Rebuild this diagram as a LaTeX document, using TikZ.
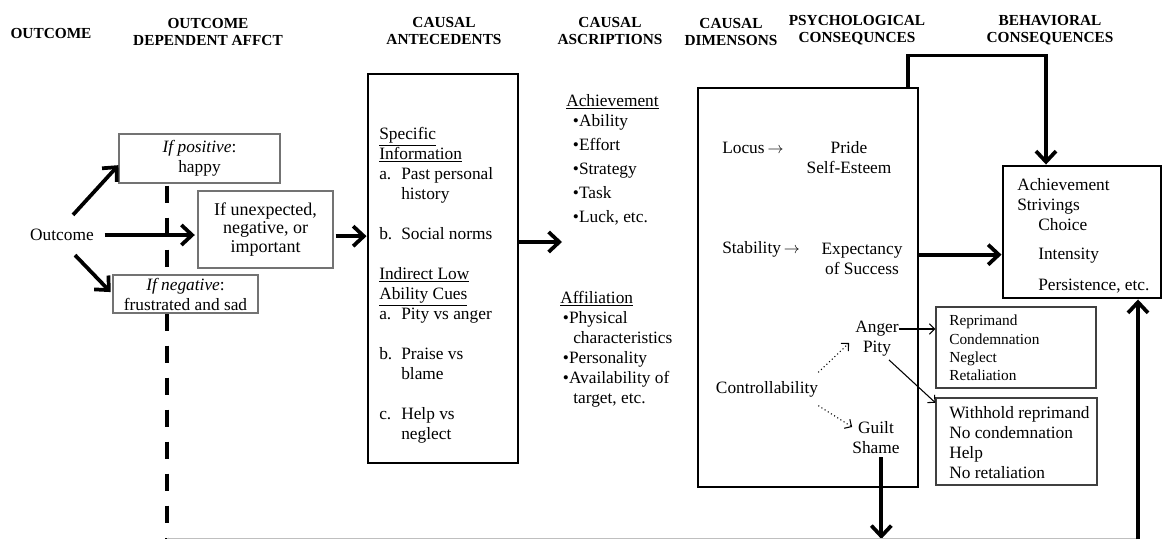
\documentclass[tikz,border=0pt]{standalone}
\usepackage{fontspec}
\setmainfont{Liberation Serif}
\usetikzlibrary{arrows.meta}
\tikzset{
  hdr/.style={font=\bfseries\fontsize{11.5}{12.75}\selectfont, align=center, inner sep=0pt},
  txt/.style={font=\fontsize{13}{15}\selectfont, inner sep=0pt},
  smallbox/.style={draw=black!55, line width=0.8pt, fill=white, align=center, inner sep=0pt, font=\fontsize{13}{15}\selectfont},
  listbox/.style={draw=black!75, line width=0.8pt, fill=white, inner sep=0pt},
  bigbox/.style={draw, line width=2.2pt, inner sep=0pt},
  bigarrow/.style={line width=2.8pt, -{Straight Barb[length=8pt,width=15pt]}},
  thinarrow/.style={line width=0.8pt, -{Straight Barb[length=4pt,width=8pt]}},
  dotarrow/.style={line width=0.8pt, dotted, -{Straight Barb[length=4pt,width=8pt]}},
}
\newcommand{\dimarrow}{\,$\rightarrow$}
\begin{document}
\begin{tikzpicture}[x=0.75pt, y=-0.75pt]
  \useasboundingbox (0,0) rectangle (1163,539);

  % Column headings
  \node[hdr] (hOut) at (51,33) {OUTCOME};
  \node[hdr] (hAff) at (208,32) {OUTCOME\\DEPENDENT AFFCT};
  \node[hdr] (hAnt) at (444,31) {CAUSAL\\ANTECEDENTS};
  \node[hdr] (hAsc) at (610,31) {CAUSAL\\ASCRIPTIONS};
  \node[hdr] (hDim) at (731,32) {CAUSAL\\DIMENSONS};
  \node[hdr] (hPsy) at (857,30) {PSYCHOLOGICAL\\CONSEQUNCES};
  \node[hdr] (hBeh) at (1050,30) {BEHAVIORAL\\CONSEQUENCES};

  % Outcome and affect
  \node[txt] (outcome) at (62,235) {Outcome};
  \node[smallbox, minimum width=161*0.75pt, minimum height=49*0.75pt] (pos) at (199.5,158.5) {\textit{If positive}:\\happy};
  \node[smallbox, font=\fontsize{13.5}{14}\selectfont, minimum width=135*0.75pt, minimum height=77*0.75pt] (unexp) at (265.5,229.5) {If unexpected,\\negative, or\\important};
  \coordinate (dashbot) at (167,539);
  \draw[line width=3pt, dash pattern=on 13pt off 11pt] (pos.south -| dashbot) ++(0,2) -- (dashbot);
  \node[smallbox, minimum width=145*0.75pt, minimum height=38*0.75pt] (neg) at (185.5,294) {\textit{If negative}:\\frustrated and sad};

  % Boxes
  \node[bigbox, minimum width=150*0.75pt, minimum height=389*0.75pt] (antec) at (443,268.5) {};
  \node[bigbox, minimum width=220*0.75pt, minimum height=399*0.75pt] (dims) at (808,287.5) {};
  \node[bigbox, minimum width=158*0.75pt, minimum height=132*0.75pt] (strv) at (1082,232) {};
  \node[listbox, minimum width=160*0.75pt, minimum height=81*0.75pt] (rep) at (1016,347.5) {};
  \node[listbox, minimum width=161*0.75pt, minimum height=87*0.75pt] (wh) at (1016.5,441.5) {};

  % Antecedents
  \node[txt, anchor=north west, align=left] (antectxt) at (379,127) {%
    \underline{Specific}\\
    \underline{Information}\\
    \makebox[16.5pt][l]{a.}Past personal\\
    \hspace*{16.5pt}history\\[15pt]
    \makebox[16.5pt][l]{b.}Social norms\\[15pt]
    \underline{Indirect Low}\\
    \underline{Ability Cues}\\
    \makebox[16.5pt][l]{a.}Pity vs anger\\[15pt]
    \makebox[16.5pt][l]{b.}Praise vs\\
    \hspace*{16.5pt}blame\\[15pt]
    \makebox[16.5pt][l]{c.}Help vs\\
    \hspace*{16.5pt}neglect};

  % Ascriptions
  \node[txt, anchor=north west, align=left] (achv) at (566,94) {%
    \underline{Achievement}\\
    \hspace*{5pt}\textbullet Ability\\[3pt]
    \hspace*{5pt}\textbullet Effort\\[3pt]
    \hspace*{5pt}\textbullet Strategy\\[3pt]
    \hspace*{5pt}\textbullet Task\\[3pt]
    \hspace*{5pt}\textbullet Luck, etc.};
  \node[txt, anchor=north west, align=left] (affil) at (560,291) {%
    \underline{Affiliation}\\
    \hspace*{2pt}\textbullet Physical\\
    \hspace*{9.75pt}characteristics\\
    \hspace*{2pt}\textbullet Personality\\
    \hspace*{2pt}\textbullet Availability of\\
    \hspace*{9.75pt}target, etc.};

  % Dimensions and consequences
  \node[txt, anchor=west] (locus) at (722,148) {Locus\dimarrow};
  \node[txt, align=center] (pride) at (849,158) {Pride\\Self-Esteem};
  \node[txt, anchor=west] (stab) at (722,249) {Stability\dimarrow};
  \node[txt, align=center] (expect) at (862,259) {Expectancy\\of Success};
  \node[txt] (ctrl) at (767,389) {Controllability};
  \node[txt, align=center] (ap) at (877,339) {Anger\\Pity};
  \node[txt, align=center] (gs) at (876,438) {Guilt\\Shame};

  % Behaviors
  \node[txt, anchor=north west, align=left] (strvtxt) at (1017,178) {%
    Achievement\\Strivings\\
    \hspace*{15.75pt}Choice\\[6.75pt]
    \hspace*{15.75pt}Intensity\\[8.25pt]
    \hspace*{15.75pt}Persistence, etc.};
  \node[txt, font=\fontsize{11.5}{13.75}\selectfont, anchor=north west, align=left] (reptxt) at (949,315) {Reprimand\\Condemnation\\Neglect\\Retaliation};
  \node[txt, anchor=north west, align=left] (whtxt) at (949,406) {Withhold reprimand\\No condemnation\\Help\\No retaliation};

  % Arrows
  \draw[bigarrow] ([shift={(11,-14)}]outcome.north) -- ([yshift=-5pt]pos.west);
  \draw[bigarrow, shorten <=8pt, shorten >=2pt] (outcome.east) -- (outcome.east -| unexp.west);
  \draw[bigarrow, shorten >=2pt] ([shift={(13,14)}]outcome.south) -- (neg.west);
  \coordinate (unexpout) at ([yshift=-5pt]unexp.east);
  \draw[bigarrow, shorten <=1.5pt] (unexpout) -- (unexpout -| antec.west);
  \coordinate (ascrin) at (562,242);
  \draw[bigarrow] (ascrin -| antec.east) -- (ascrin);
  \coordinate (strvin) at ([yshift=-17pt]strv.west);
  \draw[bigarrow] (strvin -| dims.east) -- (strvin);
  \draw[bigarrow] ([xshift=75pt]dims.north) -- ++(0,-31) -| ([xshift=-27pt]strv.north);
  \coordinate (gsout) at ([xshift=4pt]gs.south);
  \draw[bigarrow, shorten <=2pt] (gsout) -- (gsout |- dashbot);
  \coordinate (rise) at (1138,539);
  \draw[black!25, line width=0.7pt] ([yshift=0.6pt]dashbot) -- ([yshift=0.6pt]rise);
  \draw[bigarrow] (rise) -- (rise |- strv.south);

  \draw[dotarrow] ([yshift=12.5pt]ctrl.east) -- ([shift={(-6,4)}]ap.west);
  \draw[dotarrow] ([yshift=-12.5pt]ctrl.east) -- ([shift={(0,-11)}]gs.west);
  \coordinate (angerout) at ([yshift=7.5pt]ap.east);
  \draw[thinarrow] (angerout) -- (angerout -| rep.west);
  \draw[thinarrow] ([shift={(-10,3)}]ap.south east) -- ([yshift=-4pt]wh.north west);
\end{tikzpicture}
\end{document}
